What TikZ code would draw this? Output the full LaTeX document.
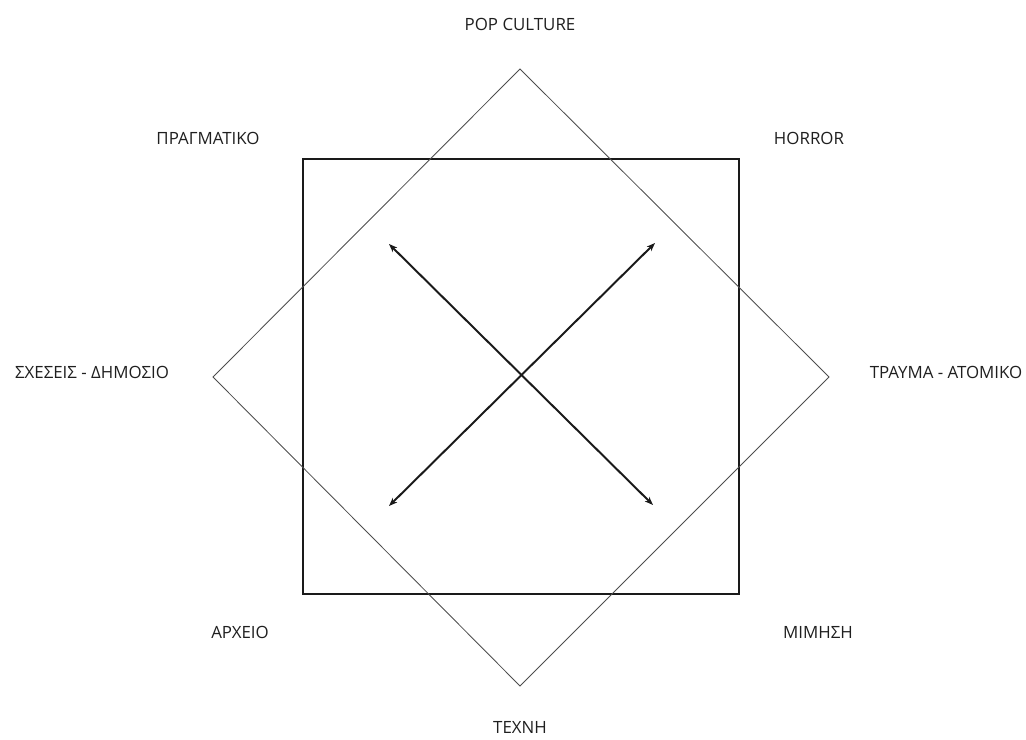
\documentclass[tikz,border=0pt]{standalone}
\usepackage{fontspec}
\setmainfont{Open Sans}
\usepackage{xcolor}
\usetikzlibrary{arrows.meta}
\definecolor{inkline}{HTML}{1A1A1A}
\definecolor{greyline}{HTML}{4D4D4D}
\definecolor{labeltext}{HTML}{1F1F1F}

\begin{document}
\begin{tikzpicture}[x=0.025cm, y=-0.025cm,
  lbl/.style={font=\fontsize{12}{14}\selectfont, text=labeltext, inner sep=0pt},
  frame/.style={draw=inkline, line width=0.8pt},
  rhomb/.style={draw=greyline, line width=0.6pt},
  axis/.style={{Stealth[length=6pt,width=4.5pt]}-{Stealth[length=6pt,width=4.5pt]}, draw=inkline, line width=1.4pt}
]
  \useasboundingbox (0,0) rectangle (1026,740);

  % square
  \coordinate (sqnw) at (303,159);
  \coordinate (sqse) at (739,594);
  \draw[frame] (sqnw) rectangle (sqse);

  % diamond
  \coordinate (dtop) at (520,69);
  \coordinate (dright) at (829,377);
  \coordinate (dbot) at (520,686);
  \coordinate (dleft) at (213,377);
  \draw[rhomb] (dtop) -- (dright) -- (dbot) -- (dleft) -- cycle;

  % axes
  \coordinate (anw) at (389,244);
  \coordinate (ase) at (653,505);
  \coordinate (asw) at (389,506);
  \coordinate (ane) at (655,243);
  \draw[axis] (anw) -- (ase);
  \draw[axis] (asw) -- (ane);

  % labels
  \node[lbl] (pop) at (520,24) {POP CULTURE};
  \node[lbl] (pragm) at (208,138) {ΠΡΑΓΜΑΤΙΚΟ};
  \node[lbl] (horror) at (809,138) {HORROR};
  \node[lbl] (sxeseis) at (92,372) {ΣΧΕΣΕΙΣ - ΔΗΜΟΣΙΟ};
  \node[lbl] (trauma) at (946,372) {ΤΡΑΥΜΑ - ΑΤΟΜΙΚΟ};
  \node[lbl] (arxeio) at (240,632) {ΑΡΧΕΙΟ};
  \node[lbl] (mimisi) at (818,632) {ΜΙΜΗΣΗ};
  \node[lbl] (texni) at (520,727) {ΤΕΧΝΗ};
\end{tikzpicture}
\end{document}
